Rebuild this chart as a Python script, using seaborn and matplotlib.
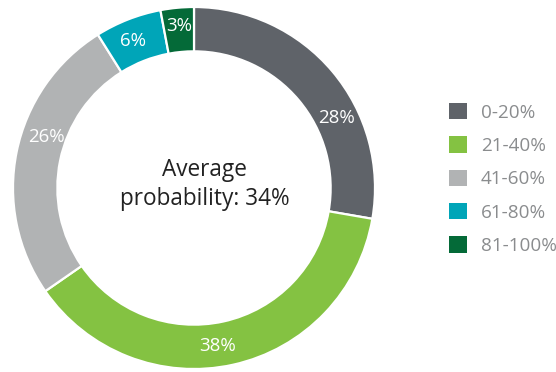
import numpy as np
import matplotlib
matplotlib.use("Agg")
import matplotlib.pyplot as plt
from matplotlib.patches import Rectangle
import seaborn as sns

# Share of opportunities by win-probability band
bands = ["0-20%", "21-40%", "41-60%", "61-80%", "81-100%"]
shares = [28, 38, 26, 6, 3]
average_probability = 34

sns.set_theme(style="white")
plt.rcParams["font.family"] = ["Open Sans", "DejaVu Sans"]

palette = sns.color_palette(["#5f6369", "#84c242", "#b1b3b4", "#00a5b8", "#046a38"])

fig = plt.figure(figsize=(5.56, 3.72), dpi=100)
W, H = 556, 372
cx, cy, R = 194, 188, 181
ax = fig.add_axes([(cx - R) / W, (H - cy - R) / H, 2 * R / W, 2 * R / H])

ring = 0.245
wedges, _ = ax.pie(
    shares,
    colors=palette,
    startangle=90,
    counterclock=False,
    radius=1.0,
    wedgeprops=dict(width=ring, edgecolor="white", linewidth=1.6),
)
ax.set_xlim(-1, 1)
ax.set_ylim(-1, 1)
ax.set_aspect("equal")
ax.axis("off")

# Percentage labels sit in the middle of the ring, along each wedge
label_pos = [0.64, 0.53, 0.58, 0.45, 0.5]
label_r = [0.875, 0.88, 0.865, 0.88, 0.9]
for w, v, f, r in zip(wedges, shares, label_pos, label_r):
    # wedges run clockwise: theta2 is the start, theta1 the end
    ang = np.deg2rad(w.theta2 - f * (w.theta2 - w.theta1))
    ax.text(r * np.cos(ang), r * np.sin(ang), f"{v}%", color="white",
            fontsize=13.5, ha="center", va="center")

ax.text(0.06, 0.02, f"Average\nprobability: {average_probability}%",
        ha="center", va="center", fontsize=16.3, color="#222222",
        linespacing=1.25)

handles = [Rectangle((0, 0), 1, 1, facecolor=c, edgecolor="none") for c in palette]
leg = fig.legend(
    handles, bands,
    loc="upper left",
    bbox_to_anchor=(449 / W, 1 - 103 / H),
    frameon=False,
    fontsize=13.6,
    handlelength=0.95,
    handleheight=0.95,
    handletextpad=0.75,
    labelspacing=0.78,
    borderpad=0,
    borderaxespad=0,
)
for t in leg.get_texts():
    t.set_color("#8a8c8e")

fig.savefig("out.png", dpi=100, facecolor="white")
